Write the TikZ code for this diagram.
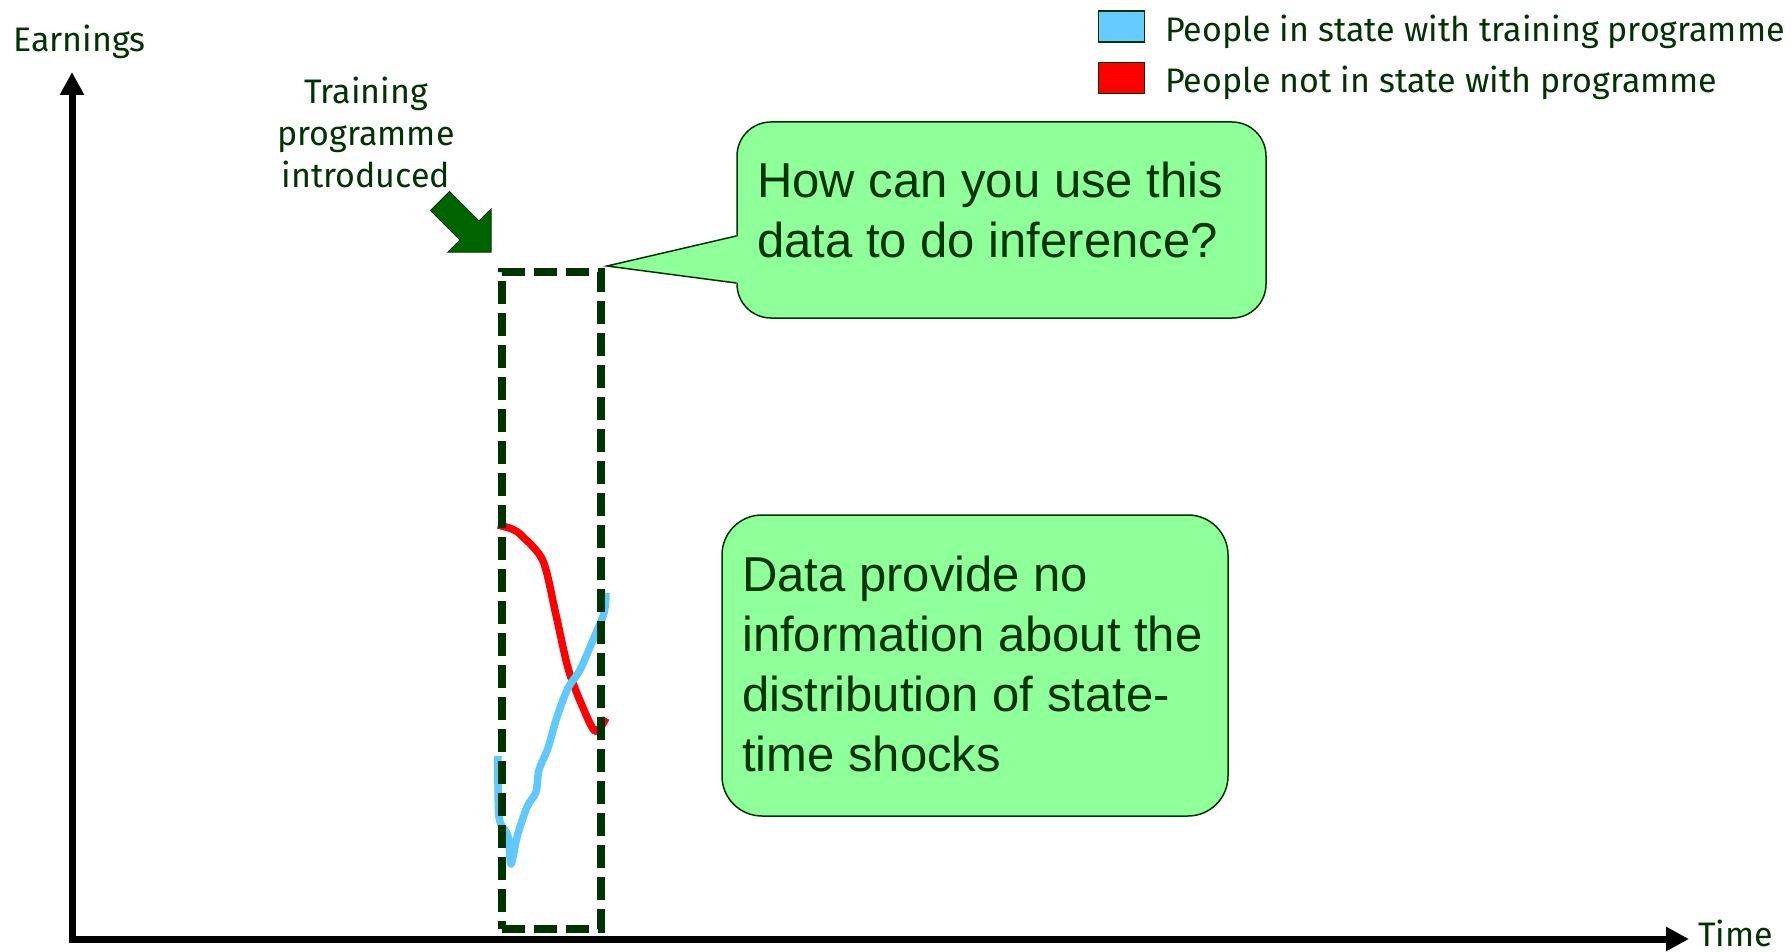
\documentclass[tikz,border=0pt]{standalone}
\usepackage{fontspec}
\setmainfont{Fira Sans}
\newfontfamily\calloutfont{Liberation Sans}
\usetikzlibrary{arrows.meta,calc}
\definecolor{dkgreen}{RGB}{0,51,0}
\definecolor{arrowgreen}{RGB}{0,100,0}
\definecolor{boxgreen}{RGB}{143,255,153}
\definecolor{skyblue}{RGB}{102,204,255}
\definecolor{lineblue}{RGB}{95,200,255}
\begin{document}
\begin{tikzpicture}[x=1pt,y=-1pt,
  lbl/.style={text=dkgreen, font=\fontsize{34}{42}\selectfont, inner sep=0pt},
  axisline/.style={line width=7pt, draw=black,
    {Triangle[length=23pt,width=23pt]}-{Triangle[length=23pt,width=23pt]}},
  legsq/.style={draw=dkgreen, line width=1.2pt, minimum width=46pt, minimum height=31pt, inner sep=0pt},
  curve/.style={line width=7.5pt, line join=round},
  window/.style={draw=dkgreen, line width=7.5pt, dash pattern=on 23pt off 9pt,
    inner sep=0pt, outer sep=0pt},
  callout/.style={draw=dkgreen, fill=boxgreen, line width=1.5pt, inner sep=0pt},
  qtext/.style={text=dkgreen, font=\calloutfont\fontsize{49}{60}\selectfont, align=left, inner sep=0pt}
]
\useasboundingbox (0,0) rectangle (1791,952);

% axes
\coordinate (O) at (72,939);
\coordinate (ytip) at (72,72);
\coordinate (xtip) at (1689,939);
\draw[axisline] (ytip) -- (O) -- (xtip);
\node[lbl, anchor=base west] (earn) at (13,52) {Earnings};
\node[lbl, anchor=base west] (time) at (1698,946) {Time};

% curves
\draw[curve, red] plot[smooth, tension=0.5] coordinates {(498,525) (512,529) (522,536) (543,561) (556,615) (568,668) (581,703) (595,731) (606,718)};
\draw[curve, lineblue] plot[smooth, tension=0.5] coordinates {(498,756) (499,817) (508,836) (511,864) (517,837) (527,807) (536,792) (539,770) (548,748) (557,717) (568,688) (580,670) (593,640) (604,613) (606,593)};

% dashed window
\node[window, minimum width=99pt, minimum height=657pt] (win) at (551.5,600.5) {};

% introduction label and block arrow
\node[lbl, align=center] (intro) at (366,132) {Training\\programme\\introduced};
\fill[arrowgreen, draw=dkgreen, line width=1pt] (491,252) -- (491,209) -- (479,221) -- (449.5,191.5) -- (430.5,210.5) -- (460,240) -- (448,252) -- cycle;

% callout 1
\node[callout, rounded corners=34pt, minimum width=529pt, minimum height=196pt] (q) at (1001.5,220) {};
\coordinate (qtip) at ($(win.north east)+(6,-6)$);
\fill[boxgreen] ($(q.west)+(3,16)$) -- (qtip) -- ($(q.west)+(3,63)$) -- cycle;
\draw[dkgreen, line width=1.5pt] ($(q.west)+(0,16)$) -- (qtip) -- ($(q.west)+(0,63)$);
\node[qtext, anchor=west] (qt) at (757,210) {How can you use this\\data to do inference?};

% callout 2
\node[callout, rounded corners=40pt, minimum width=506pt, minimum height=301pt] (ans) at (975,665.5) {};
\node[qtext, anchor=west] (anst) at (742,664) {Data provide no\\information about the\\distribution of state-\\time shocks};

% legend
\node[legsq, fill=skyblue] (lgA) at (1121.5,26.5) {};
\node[lbl, anchor=base west] (lgAt) at (1165,42) {People in state with training programme};
\node[legsq, fill=red] (lgB) at (1121.5,78) {};
\node[lbl, anchor=base west] (lgBt) at (1165,93) {People not in state with programme};
\end{tikzpicture}
\end{document}
